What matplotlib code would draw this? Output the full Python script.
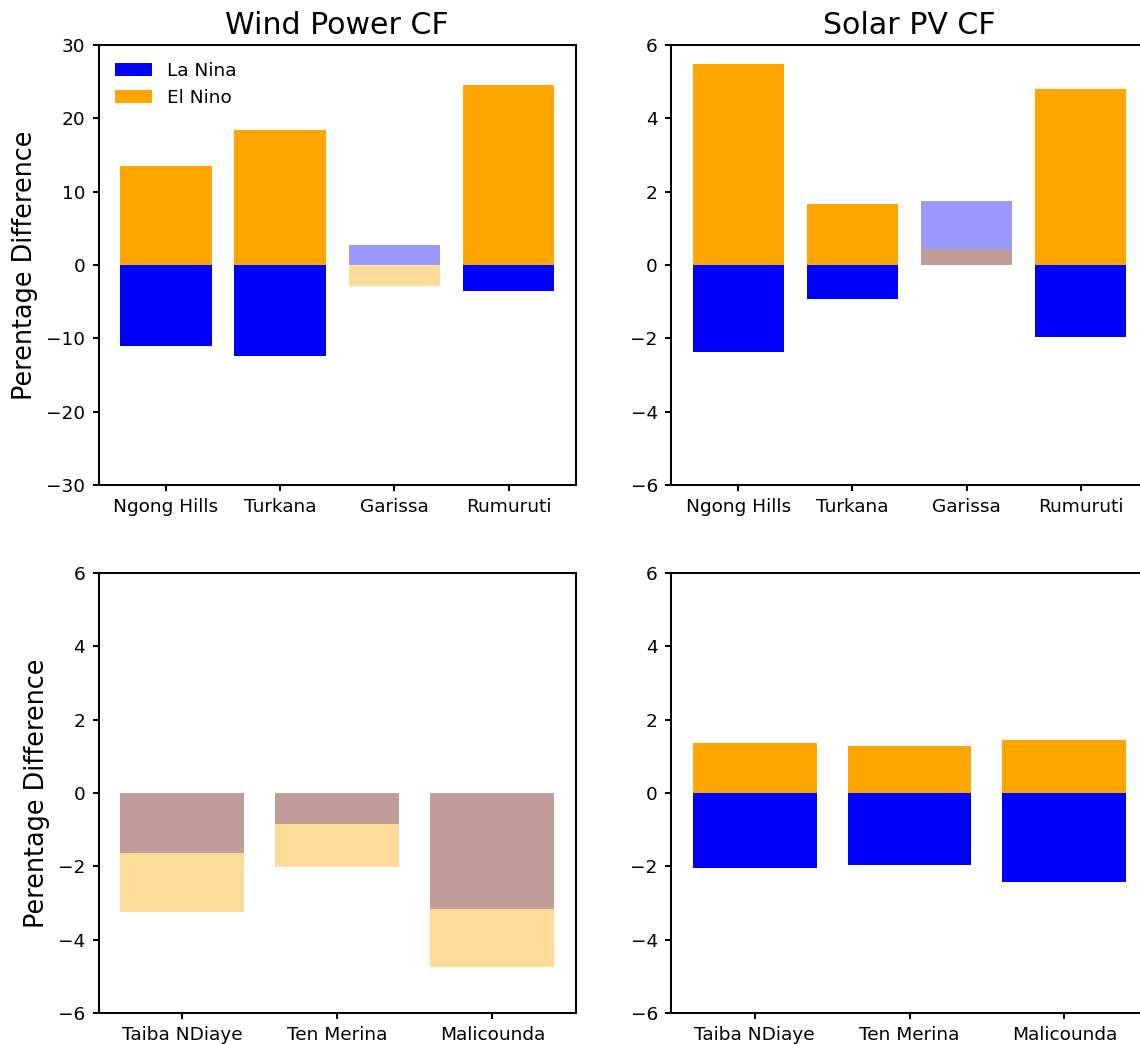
# ENSO composites: percentage difference of capacity factors per site
import numpy as np
import matplotlib
matplotlib.use("Agg")
import matplotlib.pyplot as plt

# Kenya sites (top row)
kenya_sites = ["Ngong Hills", "Turkana", "Garissa", "Rumuruti"]
kenya_wind_lanina = [-11.0, -12.4, 2.7, -3.5]
kenya_wind_elnino = [13.5, 18.4, -2.8, 24.5]
kenya_wind_signif = [True, True, False, True]

kenya_pv_lanina = [-2.36, -0.92, 1.75, -1.95]
kenya_pv_elnino = [5.48, 1.66, 0.44, 4.8]
kenya_pv_signif = [True, True, False, True]

# Senegal sites (bottom row)
senegal_sites = ["Taiba NDiaye", "Ten Merina", "Malicounda"]
senegal_wind_lanina = [-1.64, -0.85, -3.16]
senegal_wind_elnino = [-3.24, -2.01, -4.74]
senegal_wind_signif = [False, False, False]

senegal_pv_lanina = [-2.04, -1.95, -2.42]
senegal_pv_elnino = [1.36, 1.28, 1.45]
senegal_pv_signif = [True, True, True]

plt.rcParams.update({
    "font.family": "DejaVu Sans",
    "axes.linewidth": 1.45,
    "xtick.major.size": 4.5,
    "ytick.major.size": 4.5,
    "xtick.major.width": 1.45,
    "ytick.major.width": 1.45,
    "xtick.labelsize": 13.3,
    "ytick.labelsize": 13.3,
    "xtick.major.pad": 5,
    "ytick.major.pad": 5,
})

W, H = 1140, 1044
fig = plt.figure(figsize=(W / 100, H / 100), dpi=100)


def add_ax(x0, y0, x1, y1):
    return fig.add_axes([x0 / W, 1 - y1 / H, (x1 - x0) / W, (y1 - y0) / H])


def draw_panel(ax, sites, lanina, elnino, signif, ylim, yticks):
    # non-significant changes drawn faded; El Nino goes over La Nina
    x = np.arange(len(sites))
    alphas = [1.0 if s else 0.4 for s in signif]
    for xi, v, a in zip(x, lanina, alphas):
        ax.bar(xi, v, width=0.8, color="blue", alpha=a,
               label="La Nina" if xi == 0 else None)
    for xi, v, a in zip(x, elnino, alphas):
        ax.bar(xi, v, width=0.8, color="orange", alpha=a,
               label="El Nino" if xi == 0 else None)
    ax.set_xticks(x)
    ax.set_xticklabels(sites)
    ax.set_ylim(*ylim)
    ax.set_yticks(yticks)


ax1 = add_ax(98.5, 45, 576, 485)
ax2 = add_ax(671, 45, 1148, 485)
ax3 = add_ax(98.5, 573, 576, 1013)
ax4 = add_ax(671, 573, 1148, 1013)

draw_panel(ax1, kenya_sites, kenya_wind_lanina, kenya_wind_elnino,
           kenya_wind_signif, (-30, 30), np.arange(-30, 31, 10))
draw_panel(ax2, kenya_sites, kenya_pv_lanina, kenya_pv_elnino,
           kenya_pv_signif, (-6, 6), np.arange(-6, 7, 2))
draw_panel(ax3, senegal_sites, senegal_wind_lanina, senegal_wind_elnino,
           senegal_wind_signif, (-6, 6), np.arange(-6, 7, 2))
draw_panel(ax4, senegal_sites, senegal_pv_lanina, senegal_pv_elnino,
           senegal_pv_signif, (-6, 6), np.arange(-6, 7, 2))

ax1.set_title("Wind Power CF", fontsize=21.6, pad=8)
ax2.set_title("Solar PV CF", fontsize=21.6, pad=8)
ax1.set_ylabel("Perentage Difference", fontsize=18.4, labelpad=6)
ax3.set_ylabel("Perentage Difference", fontsize=18.4, labelpad=6)

leg = ax1.legend(loc="upper left", frameon=False, fontsize=13.3)
for h in leg.legend_handles:
    h.set_alpha(1.0)

fig.savefig("out.png", dpi=100)
